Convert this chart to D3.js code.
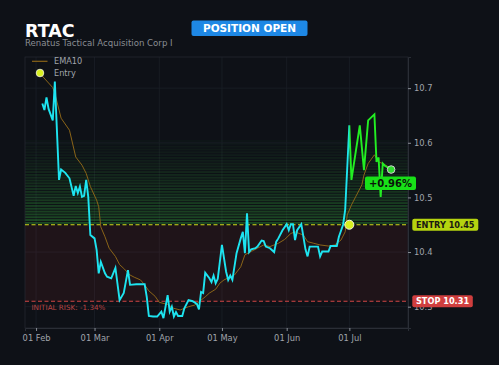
<!DOCTYPE html>
<html><head><meta charset="utf-8">
<script src="https://cdn.jsdelivr.net/npm/d3@7"></script>
<style>
html,body{margin:0;padding:0;background:#0e1117;}
svg{display:block;font-family:"DejaVu Sans",sans-serif;}
</style></head>
<body>
<svg id="chart" width="499" height="365"></svg>
<script>
const ticker = "RTAC";
const companyName = "Renatus Tactical Acquisition Corp I";
const statusLabel = "POSITION OPEN";
const entryPrice = 10.45;
const stopPrice = 10.31;
const entryDate = "2025-07-01";
const pnlLabel = "+0.96%";
const riskLabel = "INITIAL RISK: -1.34%";
const yTickValues = [10.3, 10.4, 10.5, 10.6, 10.7];

const priceDates = ["2025-02-04","2025-02-05","2025-02-06","2025-02-07","2025-02-09","2025-02-10","2025-02-12","2025-02-13","2025-02-15","2025-02-17","2025-02-19","2025-02-20","2025-02-21","2025-02-22","2025-02-23","2025-02-24","2025-02-25","2025-02-26","2025-02-27","2025-03-01","2025-03-02","2025-03-03","2025-03-04","2025-03-06","2025-03-07","2025-03-09","2025-03-11","2025-03-13","2025-03-15","2025-03-17","2025-03-18","2025-03-21","2025-03-25","2025-03-26","2025-03-27","2025-03-29","2025-03-31","2025-04-02","2025-04-03","2025-04-04","2025-04-05","2025-04-06","2025-04-07","2025-04-08","2025-04-09","2025-04-10","2025-04-12","2025-04-13","2025-04-15","2025-04-17","2025-04-19","2025-04-20","2025-04-21","2025-04-22","2025-04-23","2025-04-25","2025-04-26","2025-04-27","2025-04-28","2025-04-29","2025-05-01","2025-05-03","2025-05-04","2025-05-05","2025-05-06","2025-05-08","2025-05-10","2025-05-11","2025-05-12","2025-05-13","2025-05-14","2025-05-15","2025-05-17","2025-05-18","2025-05-20","2025-05-21","2025-05-22","2025-05-24","2025-05-26","2025-05-27","2025-05-28","2025-05-30","2025-06-01","2025-06-02","2025-06-03","2025-06-04","2025-06-05","2025-06-06","2025-06-08","2025-06-10","2025-06-11","2025-06-12","2025-06-14","2025-06-16","2025-06-17","2025-06-18","2025-06-21","2025-06-22","2025-06-25","2025-06-26","2025-06-28","2025-06-29","2025-07-01","2025-07-02","2025-07-06","2025-07-08","2025-07-10","2025-07-13","2025-07-14","2025-07-15","2025-07-16","2025-07-17","2025-07-18","2025-07-21"];
const priceValues = [10.672,10.660,10.683,10.662,10.641,10.712,10.532,10.551,10.545,10.535,10.503,10.521,10.508,10.520,10.501,10.503,10.532,10.501,10.431,10.425,10.404,10.361,10.382,10.361,10.355,10.352,10.371,10.312,10.325,10.367,10.340,10.341,10.341,10.318,10.283,10.282,10.282,10.291,10.279,10.300,10.321,10.291,10.300,10.282,10.290,10.283,10.283,10.297,10.312,10.310,10.305,10.295,10.327,10.325,10.362,10.352,10.345,10.357,10.343,10.351,10.413,10.364,10.349,10.357,10.349,10.398,10.425,10.437,10.398,10.471,10.400,10.405,10.407,10.410,10.421,10.420,10.410,10.407,10.400,10.419,10.425,10.440,10.451,10.440,10.451,10.451,10.422,10.440,10.451,10.405,10.392,10.410,10.410,10.410,10.392,10.401,10.401,10.411,10.411,10.428,10.450,10.477,10.632,10.532,10.632,10.550,10.641,10.652,10.565,10.573,10.501,10.562,10.558,10.551];

const emaDates = ["2025-02-04","2025-02-09","2025-02-10","2025-02-13","2025-02-17","2025-02-20","2025-02-23","2025-02-25","2025-02-27","2025-03-02","2025-03-03","2025-03-04","2025-03-06","2025-03-08","2025-03-11","2025-03-13","2025-03-15","2025-03-18","2025-03-20","2025-03-23","2025-03-25","2025-03-27","2025-03-30","2025-04-01","2025-04-05","2025-04-08","2025-04-11","2025-04-13","2025-04-15","2025-04-18","2025-04-20","2025-04-23","2025-04-25","2025-04-28","2025-04-30","2025-05-02","2025-05-07","2025-05-10","2025-05-12","2025-05-15","2025-05-18","2025-05-21","2025-05-24","2025-05-28","2025-05-31","2025-06-03","2025-06-05","2025-06-09","2025-06-11","2025-06-14","2025-06-17","2025-06-21","2025-06-24","2025-06-27","2025-06-29","2025-06-30","2025-07-02","2025-07-04","2025-07-07","2025-07-08","2025-07-10","2025-07-13","2025-07-15","2025-07-17","2025-07-21"];
const emaValues = [10.722,10.701,10.690,10.645,10.623,10.574,10.559,10.544,10.520,10.495,10.483,10.446,10.428,10.407,10.392,10.377,10.370,10.358,10.354,10.349,10.340,10.329,10.319,10.308,10.304,10.297,10.294,10.297,10.300,10.303,10.309,10.318,10.325,10.332,10.343,10.349,10.358,10.373,10.395,10.401,10.407,10.413,10.410,10.416,10.423,10.434,10.437,10.431,10.419,10.416,10.413,10.411,10.413,10.422,10.437,10.468,10.486,10.501,10.523,10.541,10.562,10.578,10.565,10.562,10.553];

const parse = d3.timeParse("%Y-%m-%d");
const prices = priceDates.map((d,i)=>({date:parse(d), value:priceValues[i]}));
const ema = emaDates.map((d,i)=>({date:parse(d), value:emaValues[i]}));
const entryD = parse(entryDate);

const svg = d3.select("#chart");
const W = 499, H = 365;
const plot = {left:25, right:408, top:57, bottom:328};

svg.append("rect").attr("width",W).attr("height",H).attr("fill","#0e1117");

const x = d3.scaleTime()
  .domain([new Date(2025,0,26,17), new Date(2025,6,29,2)])
  .range([plot.left, plot.right]);
const y = d3.scaleLinear()
  .domain([10.261, 10.757])
  .range([plot.bottom, plot.top]);

// grid
const grid = svg.append("g");
const monthTicks = x.ticks(d3.timeMonth.every(1));
grid.selectAll("line.v").data(monthTicks).join("line")
  .attr("x1",d=>x(d)).attr("x2",d=>x(d)).attr("y1",plot.top).attr("y2",plot.bottom)
  .attr("stroke","#1b1f27").attr("stroke-width",0.8);
grid.selectAll("line.h").data(yTickValues).join("line")
  .attr("x1",plot.left).attr("x2",plot.right).attr("y1",d=>y(d)).attr("y2",d=>y(d))
  .attr("stroke","#1b1f27").attr("stroke-width",0.8);

// risk zone
svg.append("rect")
  .attr("x",plot.left).attr("width",plot.right-plot.left)
  .attr("y",y(entryPrice)).attr("height",y(stopPrice)-y(entryPrice))
  .attr("fill","#d23c3c").attr("opacity",0.09);

// profit zone stripes
const nBands = 30, topVal = 10.605;
const bandStep = (topVal-entryPrice)/nBands;
const bands = d3.range(nBands).map(i=>entryPrice + i*bandStep);
svg.append("g").selectAll("rect").data(bands).join("rect")
  .attr("x",plot.left).attr("width",plot.right-plot.left)
  .attr("y",d=>y(d+bandStep)).attr("height",d=>Math.max(0.5,y(d)-y(d+bandStep)-0.9))
  .attr("fill","#34a83a")
  .attr("opacity",(d,i)=>0.34*Math.pow(1-i/nBands,1.2)+0.03);

// frame
svg.append("rect").attr("x",plot.left).attr("y",plot.top)
  .attr("width",plot.right-plot.left).attr("height",plot.bottom-plot.top)
  .attr("fill","none").attr("stroke","#232730").attr("stroke-width",0.8);

// axes
const xAxis = svg.append("g").attr("transform",`translate(0,${plot.bottom})`)
  .call(d3.axisBottom(x).tickValues(monthTicks).tickFormat(d3.timeFormat("%d %b")).tickSize(3).tickPadding(4));
const yAxis = svg.append("g").attr("transform",`translate(${plot.right},0)`)
  .call(d3.axisRight(y).tickValues(yTickValues).tickFormat(d3.format(".1f")).tickSize(3).tickPadding(3));
[xAxis,yAxis].forEach(a=>{
  a.select(".domain").attr("stroke","#2a2e36");
  a.selectAll(".tick line").attr("stroke","#8a8f98");
  a.selectAll(".tick text").attr("fill","#a0a4ab").attr("font-size",8.3).attr("font-family","DejaVu Sans");
});

// entry & stop lines
svg.append("line").attr("x1",plot.left).attr("x2",plot.right)
  .attr("y1",y(entryPrice)).attr("y2",y(entryPrice))
  .attr("stroke","#d0dc1a").attr("stroke-width",1.1).attr("stroke-dasharray","4,2.5");
svg.append("line").attr("x1",plot.left).attr("x2",plot.right)
  .attr("y1",y(stopPrice)).attr("y2",y(stopPrice))
  .attr("stroke","#d04545").attr("stroke-width",1.1).attr("stroke-dasharray","4,2.5");

// EMA
const line = d3.line().x(d=>x(d.date)).y(d=>y(d.value));
svg.append("path").datum(ema).attr("d",line)
  .attr("fill","none").attr("stroke","#8a6418").attr("stroke-width",1);

// price gradient
const ex = x(entryD);
const defs = svg.append("defs");
const grad = defs.append("linearGradient").attr("id","pg")
  .attr("gradientUnits","userSpaceOnUse")
  .attr("x1",plot.left).attr("x2",plot.right).attr("y1",0).attr("y2",0);
const frac = (ex-plot.left)/(plot.right-plot.left);
grad.append("stop").attr("offset",0).attr("stop-color","#1de4f0");
grad.append("stop").attr("offset",frac-0.003).attr("stop-color","#1de4f0");
grad.append("stop").attr("offset",frac+0.003).attr("stop-color","#22ee22");
grad.append("stop").attr("offset",1).attr("stop-color","#22ee22");

svg.append("path").datum(prices).attr("d",line)
  .attr("fill","none").attr("stroke","url(#pg)").attr("stroke-width",1.9)
  .attr("stroke-linejoin","miter");

// markers
svg.append("circle").attr("cx",ex).attr("cy",y(entryPrice)).attr("r",4.5)
  .attr("fill","#d8f020").attr("stroke","#f4f4e0").attr("stroke-width",1);
const last = prices[prices.length-1];
svg.append("circle").attr("cx",x(last.date)).attr("cy",y(last.value)).attr("r",3.8)
  .attr("fill","#30dd30").attr("stroke","#d0d0d0").attr("stroke-width",1);

// badges
function badge(cx, cy, w, h, fill, text, color, size, anchorLeft){
  const g = svg.append("g");
  const x0 = anchorLeft ? cx : cx - w/2;
  g.append("rect").attr("x",x0).attr("y",cy-h/2).attr("width",w).attr("height",h)
    .attr("rx",2).attr("fill",fill);
  g.append("text").attr("x",x0+w/2).attr("y",cy).attr("dy","0.35em")
    .attr("text-anchor","middle").attr("fill",color).attr("font-weight","bold")
    .attr("font-size",size).text(text);
}
badge(412.3, y(entryPrice), 66, 12, "#b5d30f", "ENTRY " + entryPrice.toFixed(2), "#1a1a12", 8.2, true);
badge(412.3, y(stopPrice), 60.5, 12, "#cf3e3e", "STOP " + stopPrice.toFixed(2), "#ffffff", 8.2, true);
badge(390.5, 183.3, 51, 13.5, "#18e018", pnlLabel, "#0a140a", 10, false);
badge(249.5, 28.3, 116, 15.5, "#1e88e5", statusLabel, "#ffffff", 10.5, false);

// title
svg.append("text").attr("x",25).attr("y",36.5).attr("fill","#ffffff")
  .attr("font-weight","bold").attr("font-size",17.5).text(ticker);
svg.append("text").attr("x",25).attr("y",45.5).attr("fill","#8a8d93")
  .attr("font-size",8.6).text(companyName);

// legend
svg.append("line").attr("x1",32).attr("x2",47.5).attr("y1",61.3).attr("y2",61.3)
  .attr("stroke","#8a6418").attr("stroke-width",1.2);
svg.append("text").attr("x",54).attr("y",61.3).attr("dy","0.35em").attr("fill","#a0a4ab")
  .attr("font-size",8.2).text("EMA10");
svg.append("circle").attr("cx",40).attr("cy",73).attr("r",3.8)
  .attr("fill","#d8f020").attr("stroke","#f4f4e0").attr("stroke-width",0.8);
svg.append("text").attr("x",54).attr("y",73).attr("dy","0.35em").attr("fill","#a0a4ab")
  .attr("font-size",8.2).text("Entry");

// risk label
svg.append("text").attr("x",31.5).attr("y",307.8).attr("dy","0.35em").attr("fill","#b84545")
  .attr("font-size",7.2).text(riskLabel);
</script>
</body></html>
